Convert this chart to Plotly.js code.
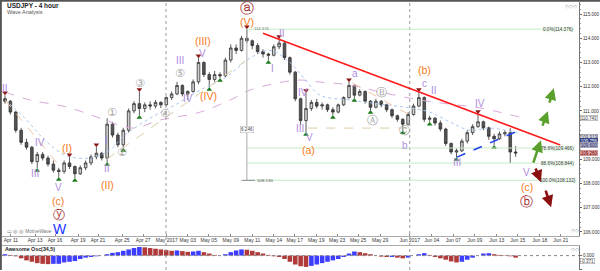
<!DOCTYPE html>
<html><head><meta charset="utf-8">
<script src="https://cdn.plot.ly/plotly-3.0.1.min.js"></script>
<style>html,body{margin:0;padding:0;background:#fff}#c{width:600px;height:271px}</style>
</head><body><div id="c"></div>
<script>
// 12-hour candles (index 0..95)
const open = [111.50,111.40,110.95,110.20,109.70,109.50,108.90,109.20,109.05,108.80,
108.55,108.50,108.85,108.70,108.40,108.65,108.85,109.10,109.25,109.05,
110.45,110.00,109.60,110.20,111.00,111.30,111.10,111.25,111.20,111.35,
111.25,111.55,111.70,112.05,111.70,111.80,112.20,113.00,112.50,112.30,
112.50,112.45,113.10,113.60,113.50,114.00,113.90,113.70,113.45,113.35,
113.30,113.65,113.80,113.20,112.60,111.50,110.60,111.10,111.35,111.20,
111.25,111.05,110.95,111.25,111.55,112.05,111.65,111.80,111.40,111.15,
111.40,111.25,111.05,110.80,110.65,110.45,110.85,111.20,111.55,110.65,
110.70,110.50,110.25,109.65,109.30,109.35,109.75,110.10,110.35,110.55,
110.30,109.95,109.85,110.05,110.10,109.30];
const high = [111.65,111.45,111.00,110.30,109.85,109.55,109.30,109.30,109.15,108.95,
108.65,108.95,109.09,108.75,108.75,108.95,109.20,109.50,109.30,110.70,
110.55,110.10,110.30,111.10,111.40,111.78,111.35,111.40,111.45,111.40,
111.60,111.80,112.20,112.10,111.85,112.30,113.18,113.05,112.60,112.65,
112.60,113.20,113.75,113.75,114.10,114.376,113.95,113.80,113.55,113.40,
113.75,113.97,113.85,113.25,112.65,111.55,111.74,111.45,111.50,111.35,
111.30,111.15,111.30,111.60,112.19,112.10,111.90,111.85,111.45,111.50,
111.45,111.30,111.10,110.85,110.70,110.95,111.30,111.78,111.60,110.80,
110.75,110.60,110.30,109.70,109.45,109.85,110.20,110.45,110.87,110.60,
110.35,110.05,110.15,110.20,110.29,109.55];
const low = [111.30,110.85,110.10,109.60,109.40,108.80,108.64,108.95,108.70,108.45,
108.26,108.40,108.60,108.22,108.35,108.55,108.75,109.00,108.95,108.88,
109.90,109.50,109.46,110.10,110.90,110.83,110.95,111.05,111.10,111.12,
111.20,111.45,111.65,111.60,111.45,111.75,112.10,112.40,111.98,112.20,
112.36,112.40,113.00,113.35,113.45,113.80,113.55,113.35,113.20,113.10,
113.25,113.55,113.10,112.50,111.40,110.41,110.12,111.00,111.10,111.05,
110.95,110.83,110.90,111.20,111.50,111.53,111.60,111.30,111.03,111.10,
111.15,110.95,110.70,110.55,110.20,110.40,110.80,111.15,110.54,110.55,
110.40,110.15,109.55,109.20,109.09,109.30,109.65,110.00,110.30,110.20,
109.80,109.59,109.80,109.95,108.84,109.10];
const close = [111.40,110.95,110.20,109.70,109.50,108.90,109.20,109.05,108.80,108.55,
108.50,108.85,108.70,108.40,108.65,108.85,109.10,109.25,109.05,110.45,
110.00,109.60,110.20,111.00,111.30,111.10,111.25,111.20,111.35,111.25,
111.55,111.70,112.05,111.70,111.80,112.20,113.00,112.50,112.30,112.50,
112.45,113.10,113.60,113.50,114.00,113.90,113.70,113.45,113.35,113.30,
113.65,113.80,113.20,112.60,111.50,110.60,111.10,111.35,111.20,111.25,
111.05,110.95,111.25,111.55,112.05,111.65,111.80,111.40,111.15,111.40,
111.25,111.05,110.80,110.65,110.45,110.85,111.20,111.55,110.65,110.70,
110.50,110.25,109.65,109.30,109.35,109.75,110.10,110.35,110.55,110.30,
109.95,109.85,110.05,110.10,109.30,109.26];
// Awesome oscillator
const ao = [0.2,0.1,-0.1,-0.4,-0.7,-0.9,-1.1,-1.2,-1.25,-1.2,
-1.2,-1.0,-0.9,-0.8,-0.5,-0.3,-0.2,-0.1,0.0,0.2,
0.4,0.5,0.7,0.9,1.1,1.25,1.2,1.1,1.0,0.9,
0.8,0.7,0.75,0.65,0.55,0.6,0.7,0.5,0.3,0.1,
0.0,0.2,0.5,0.75,0.9,0.85,0.7,0.5,0.3,0.1,
-0.1,-0.2,-0.5,-0.9,-1.3,-1.55,-1.65,-1.5,-1.3,-1.1,
-0.9,-0.7,-0.5,-0.2,0.3,0.6,0.5,0.35,0.2,0.0,
-0.15,-0.2,-0.2,-0.3,-0.4,-0.3,0.0,0.2,0.35,0.1,
-0.2,-0.4,-0.6,-0.85,-1.0,-0.9,-0.6,-0.3,0.0,0.3,
0.35,0.2,0.1,0.05,-0.1,-0.3];
// moving averages (sampled)
const pinkX = [0,4.65,11.5,17.7,23.8,28.8,36.3,41.9,45.6,54.3,58.6,64.2,69.8,77.2,82.8,88.4,95.8];
const pinkY = [111.78,111.45,111.16,110.70,110.29,110.62,110.95,111.45,111.86,112.27,112.19,112.07,111.78,111.45,111.28,111.12,110.74];
const blueX = [0,3.7,7.4,11.2,15.8,19.5,22.3,27,31.6,36.3,40.9,45.6,49.3,53,55.8,58.6,64.2,69.8,75.3,79,82.8,86.5,90.2,95.8];
const blueY = [111.45,110.7,109.8,109.17,109.05,109.38,110.0,110.7,111.24,111.86,112.36,113.18,113.5,113.0,112.3,111.65,111.45,111.28,111.12,110.95,110.54,110.2,110.29,110.08];
// x tick labels
const tickPos = [1.1,5.6,9.3,13.6,17.3,21.8,25.7,30.1,34.0,37.9,42.0,46.0,50.0,53.9,57.9,61.8,65.7,69.8,75.3,79.4,83.4,87.4,91.5,95.4,99.5,103.4];
const tickText = ["Apr 11","Apr 13","Apr 16","Apr 19","Apr 21","Apr 25","Apr 27","May 2017","May 03","May 05","May 09","May 11","May 14","May 17","May 19","May 23","May 25","May 29","Jun 2017","Jun 04","Jun 07","Jun 09","Jun 13","Jun 15","Jun 18","Jun 21"];
const monthLines = [29.95, 75.3];
const yTicks = [106,107,108,109,111,112,113,114,115];
// swing markers
const lowMarks = [6,10,13,19,22,25,38,40,49,56,61,65,68,74,79,84,91];
const highMarks = [0,12,17,25,36,45,51,56,64,77,88];
// fibonacci levels
const fibLevels = [114.376,109.466,108.844,108.132];
const fibText = ["0.0%(114.376)","78.6%(109.466)","88.6%(108.844)","100.0%(108.132)"];
// wave labels
const romanLabels = [["II",0,111.94],["III",5.6,108.43],["IV",6.5,109.71],["V",9.9,107.85],["I",18.8,109.79],["II",19.0,108.64],["III",32.6,113.10],["IV",34.0,111.53],["V",36.7,113.39],["I",49.7,112.77],["II",51.5,114.21],["IV",55.5,111.78],["III",54.9,110.29],["V",56.6,109.92],["a",65.1,112.56],["b",74.4,109.59],["c",78.0,112.15],["II",79.8,111.86],["III",84.1,108.88],["IV",88.4,111.32],["V",97.1,108.47]];
const orangeLabels = [["(I)",11.5,109.46],["(II)",19.0,107.93],["(c)",9.9,107.26],["(III)",36.8,113.88],["(IV)",37.8,111.61],["(V)",45.0,114.67],["(a)",56.4,109.38],["(b)",78.0,112.69],["(c)",97.1,107.86]];
const greyCircled = [["①",19.9,110.95],["②",21.8,109.26],["③",25.1,112.15],["④",29.8,110.91],["⑤",32.6,112.56],["Ⓐ",68.3,110.62],["Ⓑ",70.0,111.78],["Ⓒ",74.4,110.21]];
const redCircled = [["ⓐ",45,115.25,14],["ⓨ",10,106.71,12],["ⓑ",97.1,107.26,12.5]];
const priceBoxes = [[110.72,"110.743","#ffffff","#888","#333"],[109.92,"109.919","#e4e6f0","#667","#333"],[109.76,"109.756","#2a3a80","#2a3a80","#fff"],[109.60,"109.600","#b4b4e4","#889","#222"],[109.26,"109.260","#e8a0a0","#c07070","#500"]];

const xs = open.map((_, i) => i);
const aoColors = ao.map((v, i) => (i === 0 || v >= ao[i-1]) ? '#3d3dff' : '#b03a3a');

const traces = [
  {type:'scatter', mode:'lines', x:pinkX, y:pinkY, line:{color:'#d9a9d9', width:1, dash:'dash', shape:'spline'}, hoverinfo:'skip', xaxis:'x', yaxis:'y'},
  {type:'scatter', mode:'lines', x:blueX, y:blueY, line:{color:'#a9c8f2', width:1, dash:'dot', shape:'spline'}, hoverinfo:'skip', xaxis:'x', yaxis:'y'},
  {type:'candlestick', x:xs, open:open, high:high, low:low, close:close,
   increasing:{line:{color:'#333333', width:0.8}, fillcolor:'#cfcfcf'},
   decreasing:{line:{color:'#333333', width:0.8}, fillcolor:'#555555'},
   whiskerwidth:0, hoverinfo:'skip', xaxis:'x', yaxis:'y'},
  {type:'scatter', mode:'markers', x:lowMarks, y:lowMarks.map(i => low[i]-0.1), marker:{symbol:'triangle-up', size:5, color:'#1e7a1e'}, hoverinfo:'skip', xaxis:'x', yaxis:'y'},
  {type:'scatter', mode:'markers', x:highMarks, y:highMarks.map(i => high[i]+0.1), marker:{symbol:'triangle-down', size:5, color:'#8a1a1a'}, hoverinfo:'skip', xaxis:'x', yaxis:'y'},
  {type:'bar', x:xs, y:ao, marker:{color:aoColors}, width:0.85, hoverinfo:'skip', xaxis:'x2', yaxis:'y2'}
];

const shapes = [];
monthLines.forEach(m => shapes.push({type:'line', xref:'x', yref:'paper', x0:m, x1:m, y0:0, y1:1, line:{color:'#999', width:1, dash:'dot'}}));
fibLevels.forEach(v => shapes.push({type:'line', xref:'x', yref:'y', x0:45, x1:106.0, y0:v, y1:v, line:{color:'#c4ecc4', width:1}}));
shapes.push({type:'line', xref:'x', yref:'y', x0:0, y0:111.45, x1:9.7, y1:108.84, line:{color:'#f3c3a3', width:1, dash:'dash'}});
shapes.push({type:'line', xref:'x', yref:'y', x0:19.0, y0:109.01, x1:44.7, y1:113.06, line:{color:'#dccca4', width:1, dash:'dash'}});
shapes.push({type:'line', xref:'x', yref:'y', x0:64.7, y0:112.15, x1:75.3, y1:110.83, line:{color:'#f3c3a3', width:1, dash:'dash'}});
shapes.push({type:'line', xref:'x', yref:'y', x0:56.4, y0:110.29, x1:75.3, y1:110.29, line:{color:'#dccca4', width:1, dash:'dash'}});
shapes.push({type:'line', xref:'x', yref:'y', x0:45, x1:45, y0:108.13, y1:114.376, line:{color:'#aaaaaa', width:1}});
shapes.push({type:'line', xref:'x', yref:'y', x0:44, x1:46.5, y0:108.13, y1:108.13, line:{color:'#888', width:1}});
shapes.push({type:'line', xref:'x', yref:'y', x0:48.0, y0:114.21, x1:103.3, y1:109.59, line:{color:'#ff1a1a', width:1.6}});
shapes.push({type:'line', xref:'x', yref:'y', x0:84.1, y0:109.09, x1:95.4, y1:110.17, line:{color:'#2244ee', width:1.6, dash:'dash'}});
shapes.push({type:'line', xref:'paper', yref:'y2', x0:0, x1:1, y0:0, y1:0, line:{color:'#888', width:1, dash:'dot'}});
shapes.push({type:'line', xref:'paper', yref:'paper', x0:-0.01, x1:1.04, y0:1.005, y1:1.005, line:{color:'#555', width:2}});
shapes.push({type:'line', xref:'paper', yref:'paper', x0:-0.002, x1:-0.002, y0:0, y1:1.01, line:{color:'#555', width:2}});
shapes.push({type:'line', xref:'paper', yref:'y', x0:1, x1:1.006, y0:110, y1:110, line:{color:'#666', width:1}});

const ann = [];
const T = (text, x, y, size, color, extra) => Object.assign({text:text, x:x, y:y, xref:'x', yref:'y', showarrow:false, font:{size:size, color:color}, xanchor:'center', yanchor:'middle'}, extra||{});
romanLabels.forEach(l => ann.push(T(l[0], l[1], l[2], 10, '#b08de0')));
orangeLabels.forEach(l => ann.push(T(l[0], l[1], l[2], 10.5, '#f47920')));
greyCircled.forEach(l => ann.push(T(l[0], l[1], l[2], 11, '#a0a0a0', {font:{size:11, color:'#a0a0a0', family:'DejaVu Sans'}})));
redCircled.forEach(l => ann.push(T(l[0], l[1], l[2], l[3], '#a02828', {font:{size:l[3], color:'#a02828', family:'DejaVu Sans'}})));
ann.push(T('W', 10.2, 106.1, 14, '#1a35ff'));
fibLevels.forEach((v, k) => ann.push(T(fibText[k], 102.8, v, 4.6, '#333', {bgcolor:'rgba(240,252,240,0.95)', borderpad:0})));
ann.push(T('6.246', 45, 110.24, 4.6, '#444', {bgcolor:'#fff', bordercolor:'#aaa', borderwidth:0.5, borderpad:0.5}));
ann.push(T('108.130', 48.3, 108.13, 4.4, '#555'));
ann.push(T('114.376', 47.8, 114.42, 4.2, '#777'));
const arrows = [[98.2,108.80,99.7,109.79,'#5aa02c'],[99.9,110.33,101.0,110.99,'#5aa02c'],[101.2,111.28,102.1,111.94,'#5aa02c'],[98.6,108.68,99.7,108.06,'#8b1010'],[100.5,107.77,101.6,107.02,'#8b1010']];
arrows.forEach(a => ann.push({x:a[2], y:a[3], ax:a[0], ay:a[1], xref:'x', yref:'y', axref:'x', ayref:'y', text:'', showarrow:true, arrowhead:2, arrowsize:0.9, arrowwidth:2.6, arrowcolor:a[4]}));
priceBoxes.forEach(b => ann.push({text:b[1], x:1, y:b[0], xref:'paper', yref:'y', xanchor:'left', yanchor:'middle', xshift:1, showarrow:false, font:{size:4.5, color:b[4]}, bgcolor:b[2], bordercolor:b[3], borderwidth:0.5, borderpad:0.2}));
ann.push({text:'-0.371', x:1, y:-0.75, xref:'paper', yref:'y2', xanchor:'left', yanchor:'middle', xshift:1, showarrow:false, font:{size:4.5, color:'#333'}, bgcolor:'#fff', bordercolor:'#888', borderwidth:0.5, borderpad:0.2});
const P = (text, x, y, size, color) => ({text:text, x:x, y:y, xref:'paper', yref:'paper', xanchor:'left', yanchor:'middle', showarrow:false, font:{size:size, color:color}});
ann.push(P('<b>USDJPY - 4 hour</b>', 0.005, 0.988, 6.5, '#222'));
ann.push(P('Wave Analysis', 0.005, 0.962, 5.5, '#555'));
ann.push(P('▭ ◎ ◎  MotiveWave', 0.005, 0.143, 4.8, '#777'));
ann.push(P('<b>Awesome Osc(34,5)</b>', 0.002, 0.080, 5.3, '#222'));
ann.push(P('◇◇◇', 0.972, 0.985, 5, '#999'));
ann.push(P('◇◇', 0.982, 0.150, 5, '#999'));
ann.push(P('◇◇', 0.982, 0.080, 5, '#999'));

const layout = {
  width:600, height:271,
  margin:{l:2, r:21, t:2, b:1},
  paper_bgcolor:'#ffffff', plot_bgcolor:'#ffffff',
  showlegend:false,
  font:{family:'Liberation Sans, Arial, sans-serif', size:6, color:'#333'},
  xaxis:{domain:[0,1], anchor:'y', range:[-0.56,106.79], tickmode:'array', tickvals:tickPos, ticktext:tickText,
    tickangle:0, tickfont:{size:5, color:'#333'}, ticks:'inside', ticklen:2, tickcolor:'#888', ticklabelstandoff:-1,
    showgrid:false, zeroline:false, showline:true, linecolor:'#aaa', linewidth:1,
    rangeslider:{visible:false}, fixedrange:true},
  xaxis2:{domain:[0,1], anchor:'y2', matches:'x', side:'top', showticklabels:false, ticks:'',
    showgrid:false, zeroline:false, showline:true, linecolor:'#aaa', linewidth:1, fixedrange:true},
  yaxis:{domain:[0.1269,1], range:[105.83,115.5], side:'right', tickmode:'array', tickvals:yTicks,
    tickformat:'.3f', tickfont:{size:4.6, color:'#333'}, ticks:'outside', ticklen:2, tickcolor:'#666',
    minor:{ticks:'outside', ticklen:1, dtick:0.2, tickcolor:'#999', showgrid:false},
    showgrid:false, zeroline:false, showline:true, linecolor:'#777', linewidth:1, fixedrange:true},
  yaxis2:{domain:[0,0.0896], range:[-2.1,1.4], side:'right', tickmode:'array', tickvals:[0,-2], ticktext:['0.000','-2.000'],
    tickfont:{size:4.5, color:'#333'}, ticks:'outside', ticklen:2, tickcolor:'#666',
    showgrid:false, zeroline:false, showline:true, linecolor:'#777', linewidth:1, fixedrange:true},
  shapes:shapes,
  annotations:ann,
  bargap:0.1
};
Plotly.newPlot('c', traces, layout, {displayModeBar:false, staticPlot:true});
</script></body></html>
